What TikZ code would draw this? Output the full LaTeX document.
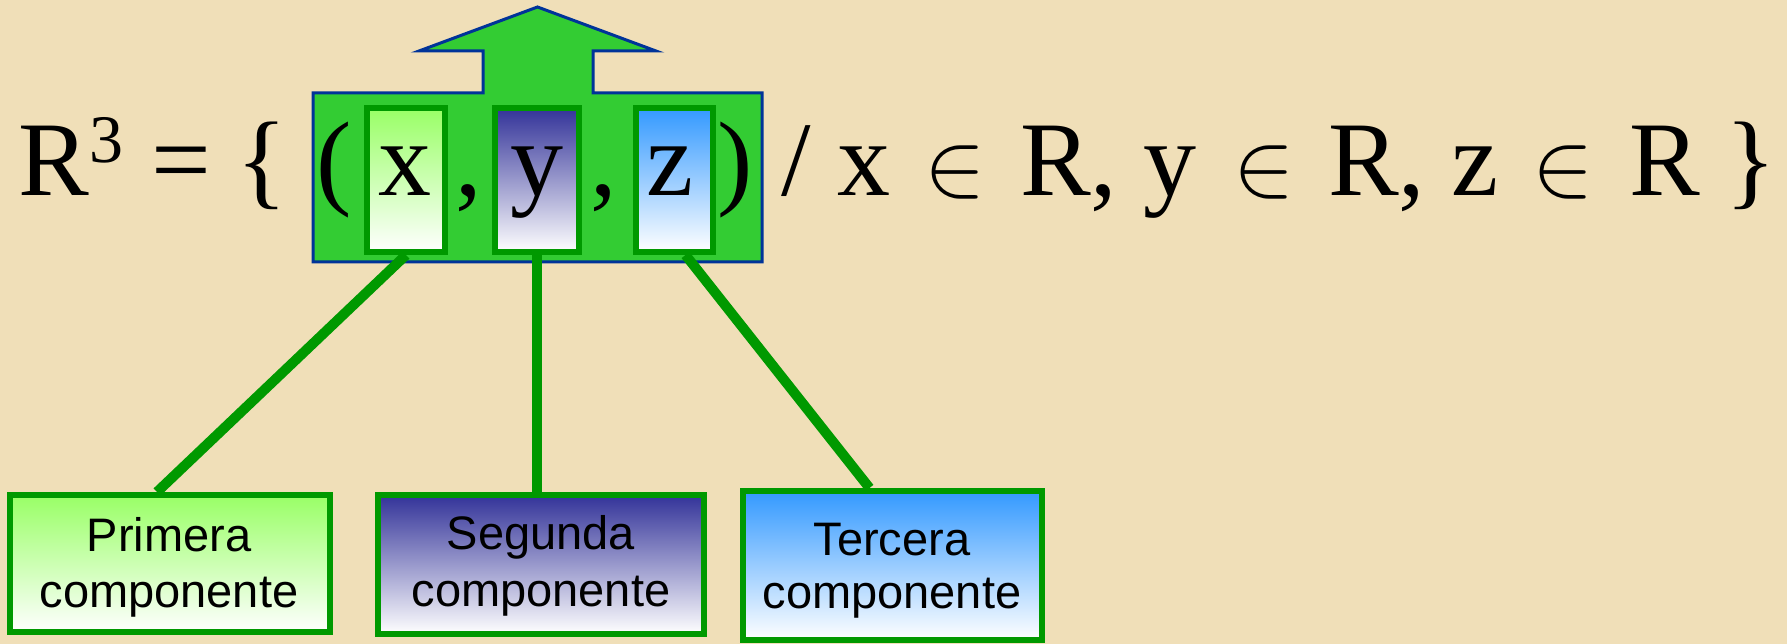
\documentclass[tikz,border=0pt]{standalone}
\usepackage{fontspec}
\newfontfamily\tms{Liberation Serif}
\newfontfamily\arl{Liberation Sans}
\usetikzlibrary{calc}
\definecolor{bgc}{RGB}{240,223,184}
\definecolor{grfill}{RGB}{51,204,51}
\definecolor{bluebd}{RGB}{0,51,153}
\definecolor{dgreen}{RGB}{0,153,0}
\definecolor{lgreen}{RGB}{153,255,102}
\definecolor{navyc}{RGB}{51,51,153}
\definecolor{skyc}{RGB}{51,153,255}
\newcommand\myin{\scalebox{9.2}{\normalsize$\in$}}
\begin{document}
\begin{tikzpicture}[x=1pt,y=-1pt,
  ser/.style={font={\tms\fontsize{106}{110}\selectfont}, inner sep=0pt, anchor=base},
  sersup/.style={font={\tms\fontsize{68}{70}\selectfont}, inner sep=0pt, anchor=base},
  smallbox/.style={draw=dgreen, line width=6pt, inner sep=0pt, minimum height=144pt, bottom color=white},
  bigbox/.style={draw=dgreen, line width=6pt, inner sep=0pt, bottom color=white},
  lbl/.style={font={\arl\fontsize{47}{56}\selectfont}, inner sep=0pt, align=center, anchor=north, text=black},
  conn/.style={draw=dgreen, line width=10pt}
]
\useasboundingbox (0,0) rectangle (1787,644);
\fill[bgc] (0,0) rectangle (1787,644);

% green block with up arrow
\draw[draw=bluebd, line width=3pt, fill=grfill, line join=miter]
  (313,93) -- (483,93) -- (483,51) -- (419,51) -- (537.5,7) -- (656,51) -- (593,51)
  -- (593,93) -- (762,93) -- (762,262) -- (313,262) -- cycle;

% component boxes
\node[smallbox, top color=lgreen, minimum width=78pt] (xb) at (406,180) {};
\node[smallbox, top color=navyc, minimum width=84pt] (yb) at (537,180) {};
\node[smallbox, top color=skyc, minimum width=77pt] (zb) at (674.5,180) {};

% formula
\node[ser, anchor=base west] (r1) at (18,196) {R};
\node[sersup] (sup3) at (106,163) {3};
\node[ser] (eq) at (181,196) {=};
\node[ser] (lbr) at (262,196) {\{};
\node[ser] (lp) at (334,196) {(};
\node[ser] (vx) at (405,196) {x};
\node[ser] (c1) at (469,196) {,};
\node[ser] (vy) at (537,196) {y};
\node[ser] (c2) at (604,196) {,};
\node[ser] (vz) at (670,196) {z};
\node[ser] (rp) at (735,196) {)};
\node[ser] (sl) at (796,196) {/};
\node[ser] (x2) at (863.5,196) {x};
\node[ser] (in1) at (955.5,196) {\myin};
\node[ser, anchor=base west] (r2) at (1020,196) {R,};
\node[ser] (y2) at (1170,196) {y};
\node[ser] (in2) at (1264,196) {\myin};
\node[ser, anchor=base west] (r3) at (1328,196) {R,};
\node[ser] (z2) at (1475.5,196) {z};
\node[ser] (in3) at (1563.5,196) {\myin};
\node[ser, anchor=base west] (r4) at (1629,196) {R};
\node[ser] (rbr) at (1750.5,196) {\}};

% label boxes
\node[bigbox, top color=lgreen, minimum width=320pt, minimum height=137pt] (b1) at (170,563.5) {};
\node[bigbox, top color=navyc, minimum width=326pt, minimum height=139pt] (b2) at (541,564.5) {};
\node[bigbox, top color=skyc, minimum width=299pt, minimum height=149pt] (b3) at (892.5,565.5) {};

% connectors
\draw[conn] (xb.south) -- ($(b1.north)+(-13,0)$);
\draw[conn] (yb.south) -- ($(b2.north)+(-4,0)$);
\draw[conn] ($(zb.south)+(11,0)$) -- ($(b3.north)+(-23,0)$);

% label texts
\node[lbl] (t1) at (169,517.3) {Primera\\componente};
\node[lbl, font={\arl\fontsize{47}{57}\selectfont}] (t2) at (541,515.5) {Segunda\\componente};
\node[lbl, font={\arl\fontsize{47}{53}\selectfont}] (t3) at (892,523.3) {Tercera\\componente};
\end{tikzpicture}
\end{document}
